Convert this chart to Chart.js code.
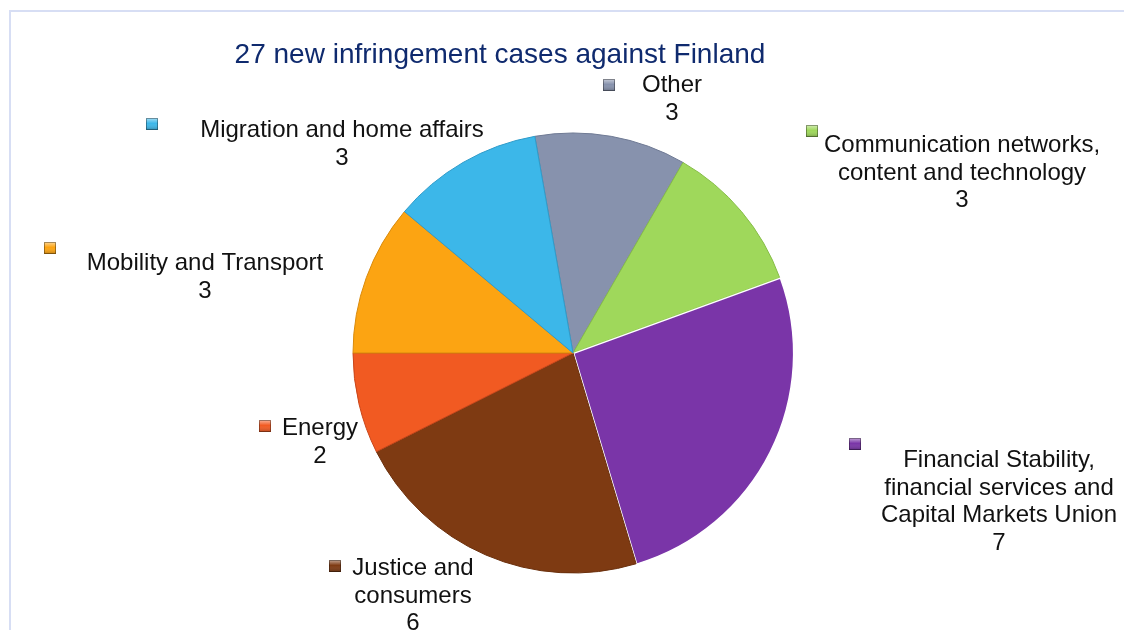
<!DOCTYPE html>
<html>
<head>
<meta charset="utf-8">
<script src="https://cdn.jsdelivr.net/npm/chart.js@4"></script>
<style>
  html, body { margin: 0; padding: 0; background: #fff; }
  #wrap { position: relative; width: 1124px; height: 630px; }
  #frame { position: absolute; left: 9px; top: 10px; right: -4px; bottom: -4px;
           border-top: 2px solid #d7def4; border-left: 2px solid #d7def4; }
</style>
</head>
<body>
<div id="wrap">
  <div id="frame"></div>
  <canvas id="chart" width="1124" height="630"></canvas>
</div>
<script>
// data, in the order the slices run clockwise from the top
const categories = [
  ["Other"],
  ["Communication networks,", "content and technology"],
  ["Financial Stability,", "financial services and", "Capital Markets Union"],
  ["Justice and", "consumers"],
  ["Energy"],
  ["Mobility and Transport"],
  ["Migration and home affairs"]
]
const cases = [3, 3, 7, 6, 2, 3, 3]
const sliceColors = ["#8792ad", "#9fd85b", "#7a35a8", "#7e3a12", "#f15a22", "#fca412", "#3cb7e9"]
const chartTitle = "27 new infringement cases against Finland"

// where each data label sits: text centre x, first baseline y, marker x / y
const labelSpots = [
  { x: 672, y: 92, mx: 603, my: 79 },
  { x: 962, y: 152, mx: 806, my: 125 },
  { x: 999, y: 467, mx: 849, my: 438 },
  { x: 413, y: 575, mx: 329, my: 560 },
  { x: 320, y: 435, mx: 259, my: 420 },
  { x: 205, y: 270, mx: 44, my: 242 },
  { x: 342, y: 137, mx: 146, my: 118 }
]

const labelPlugin = {
  id: "pieLabels",
  afterDatasetsDraw(chart) {
    const ctx = chart.ctx
    ctx.save()
    // title
    ctx.font = "28px 'Liberation Sans', Arial, sans-serif"
    ctx.fillStyle = "#0f2a6e"
    ctx.textAlign = "center"
    ctx.textBaseline = "alphabetic"
    ctx.fillText(chartTitle, 500, 63)

    ctx.font = "24px 'Liberation Sans', Arial, sans-serif"
    categories.forEach((lines, i) => {
      const spot = labelSpots[i]
      const all = lines.concat([String(cases[i])])
      ctx.fillStyle = "#111"
      all.forEach((t, k) => ctx.fillText(t, spot.x, spot.y + k * 27.5))

      // little bevelled legend square
      const s = 12
      const g = ctx.createLinearGradient(spot.mx, spot.my, spot.mx, spot.my + s)
      g.addColorStop(0, "rgba(255,255,255,0.55)")
      g.addColorStop(0.45, "rgba(255,255,255,0)")
      g.addColorStop(1, "rgba(0,0,0,0.25)")
      ctx.fillStyle = sliceColors[i]
      ctx.fillRect(spot.mx, spot.my, s, s)
      ctx.fillStyle = g
      ctx.fillRect(spot.mx, spot.my, s, s)
      ctx.strokeStyle = "rgba(0,0,0,0.35)"
      ctx.lineWidth = 1
      ctx.strokeRect(spot.mx + 0.5, spot.my + 0.5, s - 1, s - 1)
    })
    ctx.restore()
  }
}

const ctx = document.getElementById("chart").getContext("2d")
new Chart(ctx, {
  type: "pie",
  data: {
    labels: categories.map(l => l.join(" ")),
    datasets: [{
      data: cases,
      backgroundColor: sliceColors,
      borderColor: ["#6f7a94", "#86bd47", "#ffffff", "#6a2f0c", "#c9461a", "#d98a0b", "#2f9bc9"],
      borderWidth: [1, 1, 1.5, 1, 1, 1, 1],
      offset: [0, 0, 3, 0, 0, 0, 0]
    }]
  },
  options: {
    responsive: false,
    animation: false,
    rotation: -10,
    radius: 220,
    layout: { padding: { left: 353, right: 331, top: 133, bottom: 57 } },
    plugins: {
      legend: { display: false },
      tooltip: { enabled: false },
      title: { display: false }
    }
  },
  plugins: [labelPlugin]
})
</script>
</body>
</html>
